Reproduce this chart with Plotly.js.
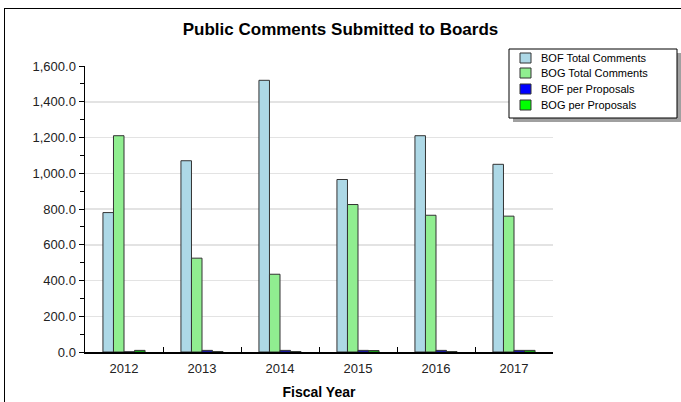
<!DOCTYPE html>
<html>
<head>
<meta charset="utf-8">
<script src="https://cdn.plot.ly/plotly-3.0.1.min.js"></script>
<style>
  html, body { margin:0; padding:0; width:681px; height:402px; overflow:hidden; background:#fff; }
  #frame { position:absolute; left:4px; top:8px; width:800px; height:600px; border:1px solid #000; }
  #chart { position:absolute; left:0; top:0; width:681px; height:402px; }
</style>
</head>
<body>
<div id="frame"></div>
<div id="chart"></div>
<script>
const years = ['2012', '2013', '2014', '2015', '2016', '2017'];
const bofTotal = [780, 1070, 1520, 965, 1210, 1050];
const bogTotal = [1210, 525, 435, 825, 765, 760];
const bofPerProposal = [1, 9, 9, 9, 9, 9];
const bogPerProposal = [9, 2, 2, 8, 2, 9];
const seriesNames = ['BOF Total Comments', 'BOG Total Comments', 'BOF per Proposals', 'BOG per Proposals'];

const colors = ['#ADD8E6', '#90EE90', '#0000FF', '#00FF00'];
const vals = [bofTotal, bogTotal, bofPerProposal, bogPerProposal];

const traces = vals.map((v, i) => ({
  type: 'bar',
  name: seriesNames[i],
  x: years,
  y: v,
  marker: { color: colors[i], line: { color: '#333333', width: 1 } },
  hoverinfo: 'skip',
  showlegend: false
}));

const W = 681, H = 402, L = 85, R = 553, T = 66, B = 352;
const pw = R - L, ph = B - T;
const px = x => (x - L) / pw;
const py = y => (B - y) / ph;

// Legend box drawn with shapes + text annotations (compact row spacing like the original)
const legBox = { x0: 509, x1: 677, y0: 49, y1: 118 };
const rowY = [58, 73, 89, 105];
const shapes = [
  { type: 'rect', xref: 'paper', yref: 'paper',
    x0: px(legBox.x0 + 4), x1: px(legBox.x1 + 4), y0: py(legBox.y1 + 4), y1: py(legBox.y0 + 4),
    fillcolor: '#a0a0a0', line: { width: 0 }, layer: 'above' },
  { type: 'rect', xref: 'paper', yref: 'paper',
    x0: px(legBox.x0), x1: px(legBox.x1), y0: py(legBox.y1), y1: py(legBox.y0),
    fillcolor: '#ffffff', line: { color: '#000', width: 1 }, layer: 'above' }
];
const annotations = [];
seriesNames.forEach((name, i) => {
  shapes.push({ type: 'rect', xref: 'paper', yref: 'paper',
    x0: px(520), x1: px(531), y0: py(rowY[i] + 5), y1: py(rowY[i] - 5),
    fillcolor: colors[i], line: { color: '#333', width: 1 }, layer: 'above' });
  annotations.push({ xref: 'paper', yref: 'paper', x: px(539), y: py(rowY[i]),
    xanchor: 'left', yanchor: 'middle', showarrow: false, text: name,
    font: { size: 11, color: '#000' } });
});

const layout = {
  width: W, height: H,
  margin: { l: L, r: W - R, t: T, b: H - B, pad: 0 },
  paper_bgcolor: 'rgba(0,0,0,0)',
  plot_bgcolor: 'rgba(0,0,0,0)',
  font: { family: 'Liberation Sans, Arial, sans-serif', size: 13, color: '#222' },
  title: {
    text: '<b>Public Comments Submitted to Boards</b>',
    font: { size: 17, color: '#000' },
    x: 0.5, xref: 'container', xanchor: 'center',
    y: 1 - 29 / H, yanchor: 'middle'
  },
  barmode: 'group',
  bargap: 0.46,
  bargroupgap: 0,
  xaxis: {
    type: 'category',
    showline: true, linecolor: '#000', linewidth: 1.5,
    ticks: 'inside', tickson: 'boundaries', ticklen: 5, tickcolor: '#000', tickwidth: 1,
    showgrid: false,
    ticklabelstandoff: 4,
    tickfont: { size: 13, color: '#222' },
    title: { text: '<b>Fiscal Year</b>', font: { size: 14, color: '#000' }, standoff: 12 }
  },
  yaxis: {
    range: [0, 1600],
    dtick: 200,
    tickformat: ',.1f',
    showline: true, linecolor: '#000', linewidth: 1.5,
    ticks: 'outside', ticklen: 5, tickcolor: '#000', tickwidth: 1,
    showgrid: true, gridcolor: '#e3e3e3', gridwidth: 1.5,
    zeroline: false,
    tickfont: { size: 13, color: '#222' },
    minor: { dtick: 100, ticks: 'outside', ticklen: 4, tickcolor: '#000', showgrid: false }
  },
  showlegend: false,
  shapes: shapes,
  annotations: annotations
};

Plotly.newPlot('chart', traces, layout, { displayModeBar: false, staticPlot: true });
</script>
</body>
</html>
